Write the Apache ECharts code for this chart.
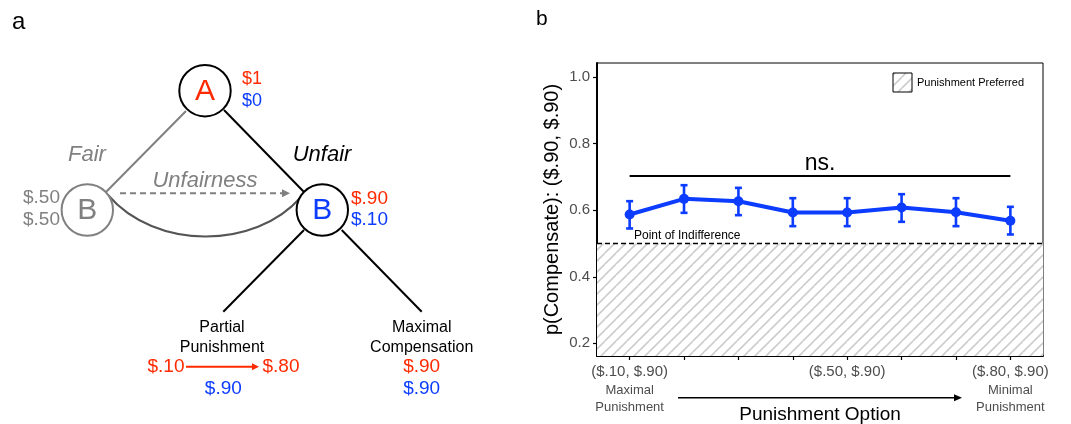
<!DOCTYPE html>
<html>
<head>
<meta charset="utf-8">
<script src="https://cdn.jsdelivr.net/npm/echarts@6/dist/echarts.min.js"></script>
<style>
html,body{margin:0;padding:0;background:#fff;}
#chart{width:1071px;height:424px;}
</style>
</head>
<body>
<div id="chart"></div>
<script>
// ---- Data (panel b) ----
const categories = ['($.10, $.90)', '($.20, $.90)', '($.30, $.90)', '($.40, $.90)', '($.50, $.90)', '($.60, $.90)', '($.70, $.90)', '($.80, $.90)'];
const labeledIndex = [0, 4, 7];
const subLabels = {0: ['Maximal', 'Punishment'], 7: ['Minimal', 'Punishment']};
const meanValues = [0.587, 0.634, 0.627, 0.593, 0.593, 0.608, 0.594, 0.568];
const errLow     = [0.545, 0.592, 0.585, 0.552, 0.552, 0.565, 0.552, 0.527];
const errHigh    = [0.627, 0.675, 0.667, 0.636, 0.636, 0.648, 0.636, 0.610];
const yTicks = [0.2, 0.4, 0.6, 0.8, 1.0];
const yRange = [0.162, 1.042];
const xRange = [-0.6, 7.6];
const nsLevel = 0.704;
const indifference = 0.5;

const BLUE = '#0b3cff';
const RED = '#ff2a00';
const FONT = '"Liberation Sans", Arial, Helvetica, sans-serif';

// hatch pattern
function makeHatch(size, color, lw) {
  const c = document.createElement('canvas');
  c.width = size; c.height = size;
  const ctx = c.getContext('2d');
  ctx.fillStyle = '#fff';
  ctx.fillRect(0, 0, size, size);
  ctx.strokeStyle = color;
  ctx.lineWidth = lw;
  ctx.beginPath();
  ctx.moveTo(-size, size); ctx.lineTo(0, 0);
  ctx.moveTo(0, size); ctx.lineTo(size, 0);
  ctx.moveTo(0, size * 2); ctx.lineTo(size * 2, 0);
  ctx.stroke();
  return c;
}
const hatch = makeHatch(11, '#cdcdcd', 1.6);

const chart = echarts.init(document.getElementById('chart'), null, {renderer: 'canvas'});

function txt(text, x, y, size, color, opts) {
  opts = opts || {};
  return {
    type: 'text', silent: true, z: 10,
    style: {
      text: text, x: x, y: y,
      font: (opts.italic ? 'italic ' : '') + size + 'px ' + FONT,
      fill: color,
      textAlign: opts.align || 'center',
      textVerticalAlign: 'middle'
    }
  };
}
function line(x1, y1, x2, y2, color, w, dash) {
  return {type: 'line', silent: true, z: 5, shape: {x1, y1, x2, y2},
    style: {stroke: color, lineWidth: w, lineDash: dash || null}};
}
function arrowHead(tipX, y, color, len, half) {
  return {type: 'polygon', silent: true, z: 6,
    shape: {points: [[tipX, y], [tipX - len, y - half], [tipX - len, y + half]]},
    style: {fill: color}};
}
function circle(cx, cy, r, stroke) {
  return {type: 'circle', silent: true, z: 7, shape: {cx, cy, r},
    style: {fill: '#fff', stroke: stroke, lineWidth: 2}};
}

const graphics = [
  // panel letters
  txt('a', 12, 22, 24, '#000', {align: 'left'}),
  txt('b', 536, 19, 21, '#000', {align: 'left'}),
  // panel a tree
  line(186, 111, 106, 192, '#808080', 2),
  line(224, 110, 304, 192, '#000', 2),
  {type: 'bezierCurve', silent: true, z: 5,
    shape: {x1: 108, y1: 195, cpx1: 155, cpy1: 250, cpx2: 255, cpy2: 250, x2: 301, y2: 197},
    style: {stroke: '#555', lineWidth: 2, fill: null}},
  line(120, 193.3, 283, 193.3, '#808080', 2, [6, 4]),
  arrowHead(290, 193.3, '#808080', 8, 4),
  line(304, 230, 223.3, 311.7, '#000', 2),
  line(341.7, 230, 421.7, 311.7, '#000', 2),
  circle(205, 90.7, 25.7, '#000'),
  circle(87.3, 210, 25.7, '#808080'),
  circle(322.3, 210, 25.7, '#000'),
  txt('A', 205, 92, 30, RED),
  txt('B', 87.3, 211, 30, '#808080'),
  txt('B', 322.3, 211, 30, BLUE),
  txt('$1', 242, 79, 18, RED, {align: 'left'}),
  txt('$0', 242, 101, 18, BLUE, {align: 'left'}),
  txt('$.50', 60, 198, 19, '#808080', {align: 'right'}),
  txt('$.50', 60, 220, 19, '#808080', {align: 'right'}),
  txt('$.90', 351, 199, 19, RED, {align: 'left'}),
  txt('$.10', 351, 220, 19, BLUE, {align: 'left'}),
  txt('Fair', 87, 155, 22, '#808080', {italic: true}),
  txt('Unfair', 322, 155, 22, '#000', {italic: true}),
  txt('Unfairness', 205, 181, 22, '#808080', {italic: true}),
  txt('Partial', 222, 328, 16, '#000'),
  txt('Punishment', 222, 348, 16, '#000'),
  txt('Maximal', 421.7, 328, 16, '#000'),
  txt('Compensation', 421.7, 348, 16, '#000'),
  txt('$.10', 166, 367, 19, RED),
  line(186, 366.7, 252, 366.7, RED, 2),
  arrowHead(259, 366.7, RED, 7, 3.5),
  txt('$.80', 281, 367, 19, RED),
  txt('$.90', 223.3, 389, 19, BLUE),
  txt('$.90', 421.7, 367, 19, RED),
  txt('$.90', 421.7, 389, 19, BLUE),
  // panel b annotations
  {type: 'rect', silent: true, z: 10, shape: {x: 893, y: 73, width: 19, height: 19},
    style: {fill: {image: hatch, repeat: 'repeat'}, stroke: '#000', lineWidth: 1}},
  txt('Punishment Preferred', 917, 82.5, 11, '#000', {align: 'left'}),
  txt('Point of Indifference', 634, 236, 12, '#000', {align: 'left'}),
  line(678, 397.7, 955, 397.7, '#000', 1.5),
  arrowHead(962, 397.7, '#000', 8, 3.5)
];

const option = {
  animation: false,
  backgroundColor: '#fff',
  textStyle: {fontFamily: FONT},
  grid: {left: 597, right: 28, top: 63, bottom: 68, show: true, borderColor: '#000', borderWidth: 1,
    backgroundColor: 'transparent', containLabel: false, outerBoundsMode: 'none'},
  xAxis: {
    type: 'value', min: xRange[0], max: xRange[1],
    axisLine: {show: true, onZero: false, lineStyle: {color: '#000', width: 2}},
    axisTick: {show: true, customValues: categories.map((c, i) => i), length: 4, lineStyle: {color: '#000', width: 1.2}},
    axisLabel: {
      show: true, customValues: labeledIndex, margin: 6,
      formatter: function (v) {
        const i = Math.round(v);
        let s = '{a|' + categories[i] + '}';
        if (subLabels[i]) s += '\n{b|' + subLabels[i][0] + '}\n{b|' + subLabels[i][1] + '}';
        return s;
      },
      rich: {
        a: {fontSize: 15, color: '#4d4d4d', lineHeight: 20, fontFamily: FONT},
        b: {fontSize: 13, color: '#4d4d4d', lineHeight: 17, fontFamily: FONT}
      }
    },
    splitLine: {show: false},
    name: 'Punishment Option', nameLocation: 'middle', nameGap: 49, nameMoveOverlap: false,
    nameTextStyle: {fontSize: 19, color: '#000', fontFamily: FONT}
  },
  yAxis: {
    type: 'value', min: yRange[0], max: yRange[1],
    axisLine: {show: true, onZero: false, lineStyle: {color: '#000', width: 2}},
    axisTick: {show: true, customValues: yTicks, length: 4, lineStyle: {color: '#000', width: 1.2}},
    axisLabel: {show: true, customValues: yTicks, margin: 7, fontSize: 15, color: '#4d4d4d', fontFamily: FONT,
      formatter: v => v.toFixed(1)},
    splitLine: {show: false},
    name: 'p(Compensate): ($.90, $.90)', nameLocation: 'middle', nameGap: 35, nameRotate: 90, nameMoveOverlap: false,
    nameTextStyle: {fontSize: 20, color: '#000', fontFamily: FONT}
  },
  series: [
    {
      type: 'line', name: 'hatch', data: [], silent: true, z: 1,
      markArea: {
        silent: true,
        itemStyle: {color: {image: hatch, repeat: 'repeat'}, borderWidth: 0},
        data: [[{yAxis: indifference}, {yAxis: yRange[0]}]]
      },
      markLine: {
        silent: true, symbol: 'none', animation: false,
        data: [
          {yAxis: indifference, lineStyle: {color: '#000', width: 1.3, type: [5, 3]}, label: {show: false}},
          [
            {coord: [0, nsLevel], lineStyle: {color: '#000', width: 2, type: 'solid'},
              label: {show: true, position: 'middle', formatter: 'ns.', fontSize: 23, color: '#000', distance: 0, fontFamily: FONT}},
            {coord: [7, nsLevel]}
          ]
        ]
      }
    },
    {
      type: 'custom', name: 'error', z: 3,
      data: meanValues.map((v, i) => [i, errLow[i], errHigh[i]]),
      renderItem: function (params, api) {
        const x = api.value(0);
        const lo = api.coord([x, api.value(1)]);
        const hi = api.coord([x, api.value(2)]);
        const hw = 3.5;
        const st = {stroke: BLUE, lineWidth: 2.6};
        return {type: 'group', children: [
          {type: 'line', shape: {x1: lo[0], y1: lo[1], x2: hi[0], y2: hi[1]}, style: st},
          {type: 'line', shape: {x1: lo[0] - hw, y1: lo[1], x2: lo[0] + hw, y2: lo[1]}, style: st},
          {type: 'line', shape: {x1: hi[0] - hw, y1: hi[1], x2: hi[0] + hw, y2: hi[1]}, style: st}
        ]};
      }
    },
    {
      type: 'line', name: 'mean', z: 4,
      data: meanValues.map((v, i) => [i, v]),
      symbol: 'circle', symbolSize: 10,
      lineStyle: {color: BLUE, width: 4},
      itemStyle: {color: BLUE, borderWidth: 0}
    }
  ],
  graphic: graphics
};
chart.setOption(option);
</script>
</body>
</html>
